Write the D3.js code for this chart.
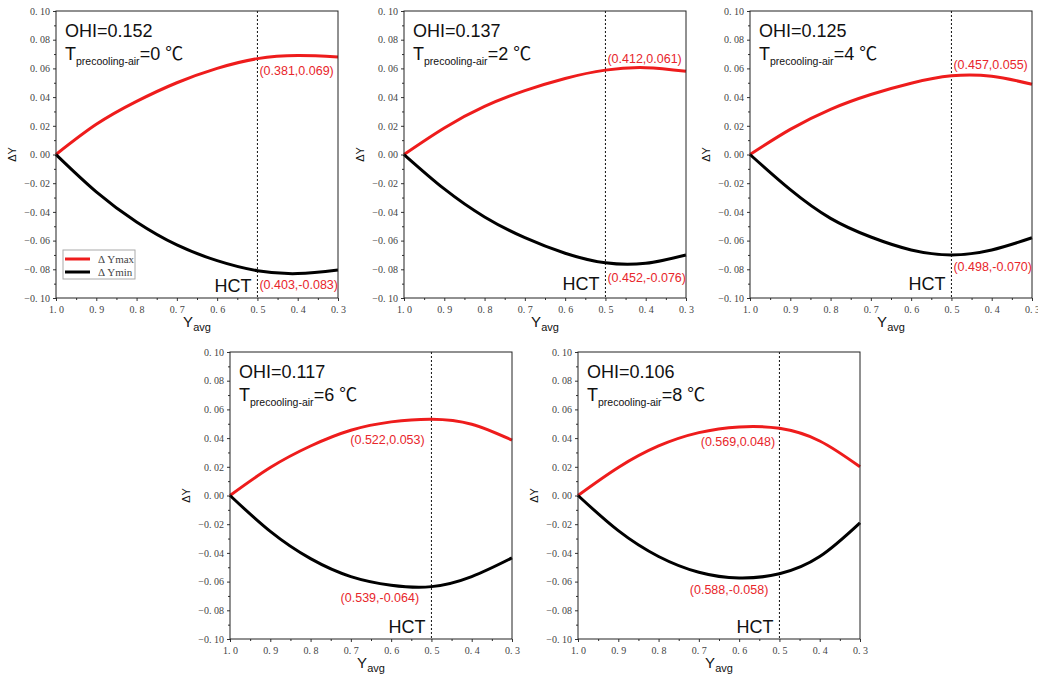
<!DOCTYPE html>
<html>
<head>
<meta charset="utf-8">
<script src="https://cdn.jsdelivr.net/npm/d3@7"></script>
<style>
  body { margin: 0; background: #fff; }
  svg { display: block; }
  .tick text { font-family: "Liberation Serif", "DejaVu Serif", serif; font-size: 10px; fill: #444; }
  .tick line { stroke: #333; }
  .sans { font-family: "Liberation Sans", Arial, "Noto Sans CJK SC", sans-serif; }
</style>
</head>
<body>
<div id="chart"></div>
<script>
// values
var yavg = [1.0, 0.9, 0.8, 0.7, 0.6, 0.5, 0.4, 0.3];
var xTicks = [1.0, 0.9, 0.8, 0.7, 0.6, 0.5, 0.4, 0.3];
var yTicks = [-0.10, -0.08, -0.06, -0.04, -0.02, 0.00, 0.02, 0.04, 0.06, 0.08, 0.10];
var ohi = [0.152, 0.137, 0.125, 0.117, 0.106];
var tPrecool = [0, 2, 4, 6, 8];
var hct = 0.5;

var dYmax = [
  [0, 0.021, 0.037, 0.050, 0.060, 0.0668, 0.069, 0.068],
  [0, 0.0185, 0.0335, 0.0445, 0.053, 0.0588, 0.0605, 0.058],
  [0, 0.0175, 0.0315, 0.0418, 0.0497, 0.0548, 0.0545, 0.049],
  [0, 0.0195, 0.0345, 0.0455, 0.0513, 0.0532, 0.0497, 0.0386],
  [0, 0.0195, 0.0345, 0.0438, 0.0478, 0.0468, 0.038, 0.020]
];
var dYmin = [
  [0, -0.026, -0.047, -0.063, -0.074, -0.081, -0.083, -0.0805],
  [0, -0.024, -0.0435, -0.058, -0.0688, -0.0755, -0.0758, -0.070],
  [0, -0.0245, -0.0445, -0.0575, -0.0665, -0.070, -0.0665, -0.058],
  [0, -0.025, -0.044, -0.0565, -0.0625, -0.0635, -0.0565, -0.0435],
  [0, -0.0245, -0.0425, -0.0535, -0.0575, -0.0545, -0.0425, -0.019]
];
var maxLabels = ["(0.381,0.069)", "(0.412,0.061)", "(0.457,0.055)", "(0.522,0.053)", "(0.569,0.048)"];
var minLabels = ["(0.403,-0.083)", "(0.452,-0.076)", "(0.498,-0.070)", "(0.539,-0.064)", "(0.588,-0.058)"];

// layout
var svgWidth = 1038, svgHeight = 679;
var panelW = 282, panelH = 287;
var origins = [[56, 11], [404, 11], [750, 11], [230, 352], [578, 352]];
// where the red labels sit (data units)
var notePos = [
  { max: [0.5, 0.0554, "start"], min: [0.5, -0.0937, "start"], hctY: -0.0958 },
  { max: [0.5, 0.0638, "start"], min: [0.5, -0.0889, "start"], hctY: -0.0944 },
  { max: [0.5, 0.0596, "start"], min: [0.5, -0.0812, "start"], hctY: -0.0944 },
  { max: [0.609, 0.0359, "middle"], min: [0.628, -0.0742, "middle"], hctY: -0.0958 },
  { max: [0.603, 0.0345, "middle"], min: [0.625, -0.0686, "middle"], hctY: -0.0958 }
];
var red = "#ee1c1c", labelRed = "#e8262b";

var svg = d3.select("#chart").append("svg")
  .attr("width", svgWidth)
  .attr("height", svgHeight);

var x = d3.scaleLinear().domain([1.0, 0.3]).range([0, panelW]);
var y = d3.scaleLinear().domain([-0.10, 0.10]).range([panelH, 0]);

var line = d3.line()
  .x(d => x(d[0]))
  .y(d => y(d[1]))
  .curve(d3.curveNatural);

var yFmt = d => d3.format(".2f")(d).replace(".", ". ");
var xFmt = d => d3.format(".1f")(d).replace(".", ". ");
var yMinor = d3.pairs(yTicks).map(p => (p[0] + p[1]) / 2);
var xMinor = d3.pairs(xTicks).map(p => (p[0] + p[1]) / 2);

origins.forEach(function(o, i) {
  var g = svg.append("g").attr("transform", `translate(${o[0]}, ${o[1]})`);

  // axes
  var ya = g.append("g").call(d3.axisLeft(y).tickValues(yTicks).tickFormat(yFmt).tickSize(3).tickPadding(3));
  var ym = g.append("g").call(d3.axisLeft(y).tickValues(yMinor).tickFormat("").tickSize(2));
  var xa = g.append("g").attr("transform", `translate(0, ${panelH})`)
    .call(d3.axisBottom(x).tickValues(xTicks).tickFormat(xFmt).tickSize(3).tickPadding(5));
  var xm = g.append("g").attr("transform", `translate(0, ${panelH})`)
    .call(d3.axisBottom(x).tickValues(xMinor).tickFormat("").tickSize(2));
  [ya, ym, xa, xm].forEach(a => a.select(".domain").remove());

  // HCT line
  g.append("line")
    .attr("x1", x(hct)).attr("x2", x(hct))
    .attr("y1", 0).attr("y2", panelH)
    .attr("stroke", "#111").attr("stroke-width", 1)
    .attr("stroke-dasharray", "2,2");

  // curves
  var maxPts = yavg.map((v, j) => [v, dYmax[i][j]]);
  var minPts = yavg.map((v, j) => [v, dYmin[i][j]]);
  g.append("path").attr("d", line(maxPts))
    .attr("fill", "none").attr("stroke", red).attr("stroke-width", 3);
  g.append("path").attr("d", line(minPts))
    .attr("fill", "none").attr("stroke", "#000").attr("stroke-width", 3);

  // frame
  g.append("rect")
    .attr("width", panelW).attr("height", panelH)
    .attr("fill", "none").attr("stroke", "#222").attr("stroke-width", 1);

  // panel text
  g.append("text").attr("class", "sans")
    .attr("x", 9).attr("y", 26)
    .attr("font-size", "18px").attr("fill", "#111")
    .text("OHI=" + d3.format(".3f")(ohi[i]));
  var t = g.append("text").attr("class", "sans")
    .attr("x", 9).attr("y", 49)
    .attr("font-size", "18px").attr("fill", "#111");
  t.append("tspan").text("T");
  t.append("tspan").attr("font-size", "10.5px").attr("dy", 5).text("precooling-air");
  t.append("tspan").attr("dy", -5).text("=" + tPrecool[i] + " ℃");

  var n = notePos[i];
  g.append("text").attr("class", "sans")
    .attr("x", x(n.max[0]) + (n.max[2] == "start" ? 2 : 0))
    .attr("y", y(n.max[1]))
    .attr("text-anchor", n.max[2])
    .attr("font-size", "12.5px").attr("fill", labelRed)
    .text(maxLabels[i]);
  g.append("text").attr("class", "sans")
    .attr("x", x(n.min[0]) + (n.min[2] == "start" ? 2 : 0))
    .attr("y", y(n.min[1]))
    .attr("text-anchor", n.min[2])
    .attr("font-size", "12.5px").attr("fill", labelRed)
    .text(minLabels[i]);
  g.append("text").attr("class", "sans")
    .attr("x", x(hct) - 6).attr("y", y(n.hctY))
    .attr("text-anchor", "end")
    .attr("font-size", "18px").attr("fill", "#111")
    .text("HCT");

  // axis labels
  g.append("text").attr("class", "sans")
    .attr("transform", `translate(-40, ${panelH / 2}) rotate(-90)`)
    .attr("text-anchor", "middle")
    .attr("font-size", "11px").attr("fill", "#111")
    .text("ΔY");
  var xl = g.append("text").attr("class", "sans")
    .attr("x", panelW / 2).attr("y", panelH + 29)
    .attr("text-anchor", "middle")
    .attr("font-size", "15px").attr("fill", "#111");
  xl.append("tspan").text("Y");
  xl.append("tspan").attr("font-size", "11px").attr("dy", 4).text("avg");

  // legend, first panel only
  if (i == 0) {
    var lg = g.append("g").attr("transform", "translate(7, 239)");
    lg.append("rect").attr("width", 72).attr("height", 29)
      .attr("fill", "#fff").attr("stroke", "#aaa").attr("stroke-width", 1);
    [["Δ Ymax", red], ["Δ Ymin", "#000"]].forEach(function(l, k) {
      lg.append("line").attr("x1", 2).attr("x2", 27)
        .attr("y1", 9 + k * 13).attr("y2", 9 + k * 13)
        .attr("stroke", l[1]).attr("stroke-width", 3);
      lg.append("text").attr("x", 35).attr("y", 13 + k * 13)
        .attr("font-family", "Liberation Serif, DejaVu Serif, serif")
        .attr("font-size", "11px").attr("fill", "#444")
        .text(l[0]);
    });
  }
});
</script>
</body>
</html>
